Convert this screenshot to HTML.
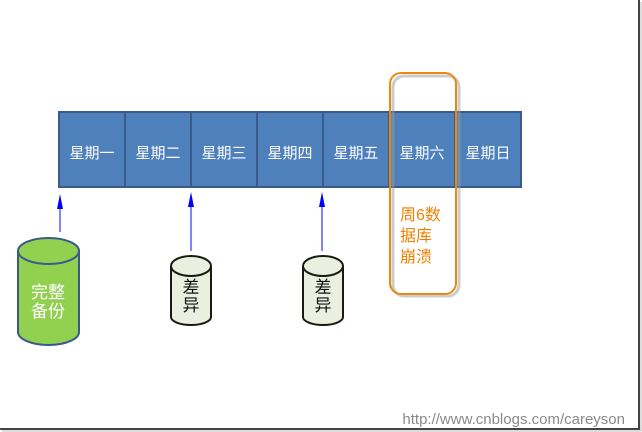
<!DOCTYPE html>
<html><head><meta charset="utf-8"><style>
body{margin:0;background:#fff;}
svg{display:block;font-family:"Liberation Sans","Noto Sans CJK SC",sans-serif;}
</style></head><body>
<svg width="642" height="432" viewBox="0 0 642 432">
<rect x="0" y="0" width="642" height="432" fill="#fff"/>
<line x1="639" y1="0" x2="639" y2="429" stroke="#444" stroke-width="2"/>
<line x1="0" y1="429" x2="640" y2="429" stroke="#444" stroke-width="2"/>
<line x1="641" y1="2" x2="641" y2="431" stroke="#bbb" stroke-width="1"/>
<line x1="2" y1="431" x2="641" y2="431" stroke="#bbb" stroke-width="1"/>
<g stroke="#3a5a8a" stroke-width="2" fill="#4e80bb">
<rect x="59" y="112" width="462" height="75"/>
<line x1="125" y1="112" x2="125" y2="187"/>
<line x1="191" y1="112" x2="191" y2="187"/>
<line x1="257" y1="112" x2="257" y2="187"/>
<line x1="323" y1="112" x2="323" y2="187"/>
<line x1="389" y1="112" x2="389" y2="187"/>
<line x1="455" y1="112" x2="455" y2="187"/>
</g>
<g fill="#fff" font-size="15" text-anchor="middle">
<text x="92" y="158">星期一</text>
<text x="158" y="158">星期二</text>
<text x="224" y="158">星期三</text>
<text x="290" y="158">星期四</text>
<text x="356" y="158">星期五</text>
<text x="422" y="158">星期六</text>
<text x="488" y="158">星期日</text>
</g>
<rect x="393" y="76" width="66" height="220" rx="11" fill="none" stroke="#999" stroke-opacity="0.5" stroke-width="3"/>
<rect x="390" y="73" width="66" height="221" rx="11" fill="none" stroke="#e88a10" stroke-width="2"/>
<g fill="#f08000" font-size="16">
<text x="400" y="220">周6数</text>
<text x="400" y="241">据库</text>
<text x="400" y="262">崩溃</text>
</g>
<g stroke="#3333ff" stroke-width="1.2" fill="#0000ff">
<line x1="60" y1="232" x2="60" y2="200"/><path d="M57 209 L60 194 L63 209 Z" stroke="none"/>
<line x1="191" y1="251" x2="191" y2="198"/><path d="M188 207 L191 192 L194 207 Z" stroke="none"/>
<line x1="322" y1="251" x2="322" y2="198"/><path d="M319 207 L322 192 L325 207 Z" stroke="none"/>
</g>
<path d="M18 251 L18 332 A30.5 13 0 0 0 79 332 L79 251" fill="#92d050" stroke="#3a5a8a" stroke-width="2"/>
<ellipse cx="48.5" cy="251" rx="30.5" ry="13" fill="#92d050" stroke="#3a5a8a" stroke-width="2"/>
<g fill="#fff" font-size="17" text-anchor="middle">
<text x="48" y="298">完整</text>
<text x="48" y="317">备份</text>
</g>
<g fill="#ebefe0" stroke="#1a1a10" stroke-width="2">
<path d="M171 266 L171 317 A20 8 0 0 0 211 317 L211 266"/>
<ellipse cx="191" cy="266" rx="20" ry="10"/>
<path d="M303 266 L303 317 A20 8 0 0 0 343 317 L343 266"/>
<ellipse cx="323" cy="266" rx="20" ry="10"/>
</g>
<g fill="#111" font-size="17" text-anchor="middle">
<text x="191" y="293">差</text><text x="191" y="311">异</text>
<text x="323" y="293">差</text><text x="323" y="311">异</text>
</g>
<text x="625" y="424" text-anchor="end" font-size="15" fill="#8a8a8a">http://www.cnblogs.com/careyson</text>
</svg>
</body></html>
